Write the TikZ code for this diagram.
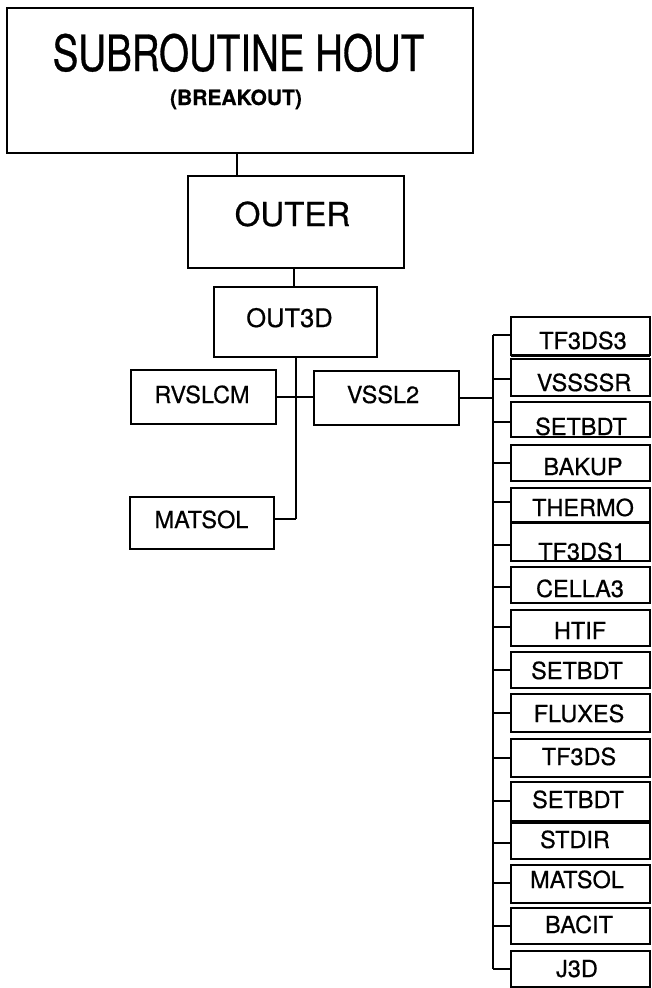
\documentclass[tikz,border=0pt]{standalone}
\usepackage{fontspec}
\usepackage{graphicx}
\setmainfont[FakeBold=0.6]{TeX Gyre Heros}
\newfontfamily\heroscond[FakeStretch=0.77,FakeBold=0.6]{TeX Gyre Heros}
\tikzset{
  box/.style={draw, line width=1.6pt, anchor=north west, inner sep=0pt, outer sep=0pt},
  wire/.style={line width=1.5pt},
  heavy/.style={line width=3pt},
  lbl/.style={anchor=base, inner sep=0pt, font=\fontsize{23.5}{28}\selectfont},
}
\begin{document}
\begin{tikzpicture}[x=1pt,y=-1pt]
\useasboundingbox (0,0) rectangle (651,988);
% main boxes
\node[box, minimum width=466pt, minimum height=145pt] (top) at (7,8) {};
\node[box, minimum width=216pt, minimum height=92pt] (outer) at (188,176) {};
\node[box, minimum width=163pt, minimum height=70pt] (out3d) at (214,287) {};
\node[box, minimum width=145pt, minimum height=54pt] (rvslcm) at (131,370) {};
\node[box, minimum width=145pt, minimum height=54pt] (vssl2) at (314,371) {};
\node[box, minimum width=144pt, minimum height=52pt] (matsol) at (130,497) {};
% texts
\node[anchor=base, inner sep=0pt, font=\heroscond\fontsize{50}{60}\selectfont] (topt) at (238.5,71) {SUBROUTINE HOUT};
\node[anchor=base, inner sep=0pt, font=\bfseries\fontsize{21}{25}\selectfont] (topb) at (236,105) {(BREAKOUT)};
\node[anchor=base, inner sep=0pt, font=\fontsize{33}{40}\selectfont] (outert) at (292.5,226) {OUTER};
\node[anchor=base, inner sep=0pt, font=\fontsize{25.5}{30}\selectfont] (out3dt) at (289.5,327) {OUT3D};
\node[lbl] (rvslcmt) at (202,403) {RVSLCM};
\node[lbl] (vssl2t) at (383,403) {VSSL2};
\node[lbl] (matsolt) at (201.5,528) {MATSOL};
% stems
\coordinate (s1) at (237,153);
\draw[wire] (s1) -- (s1 |- outer.north);
\coordinate (s2) at (294,268);
\draw[wire] (s2) -- (s2 |- out3d.north);
\coordinate (s3) at (296,357);
\coordinate (s4) at (296,519);
\draw[wire] (s3) -- (s4);
\draw[wire] (matsol.east |- s4) -- (s4);
\draw[wire] (rvslcm.east) -- (rvslcm.east -| vssl2.west);
% right column
\foreach \n/\t/\b/\base/\x/\ty/\txt in {
  r1/317/355/349/583/335/TF3DS3,
  r2/359/396/391/584/379/VSSSSR,
  r3/402/437/435/581/422/SETBDT,
  r4/445/481/475/583/463/BAKUP,
  r5/488/522/516/583/502/THERMO,
  r6/522/561/560/582/545/TF3DS1,
  r7/567/603/597/580/587/CELLA3,
  r8/610/646/639/580/627/HTIF,
  r9/652/688/679/577/670/SETBDT,
  r10/694/732/722/579/713/FLUXES,
  r11/739/777/765/579/758/TF3DS,
  r12/782/821/808/578/801/SETBDT,
  r13/823/859/848/575/843/STDIR,
  r14/865/903/888/577/883/MATSOL,
  r15/908/944/933/579/926/BACIT,
  r16/951/987/977/577/969/J3D}{
  \pgfmathsetmacro{\hh}{\b-\t}
  \node[box, minimum width=139pt, minimum height=\hh pt] (\n) at (511,\t) {};
  \node[lbl] (\n t) at (\x,\base) {\txt};
  \coordinate (\n b) at (493,\ty);
  \draw[wire] (\n b) -- (\n b -| \n.west);
}
\draw[wire] (r1b) -- (r16b);
\draw[wire] (vssl2.east) -- (vssl2.east -| r1b);
% heavy scan lines
\draw[heavy] (r1.south west) -- (r1.south east);
\draw[heavy] (r5.south west) -- (r5.south east);
\draw[heavy] (r12.south west) -- (r12.south east);
\end{tikzpicture}
\end{document}
